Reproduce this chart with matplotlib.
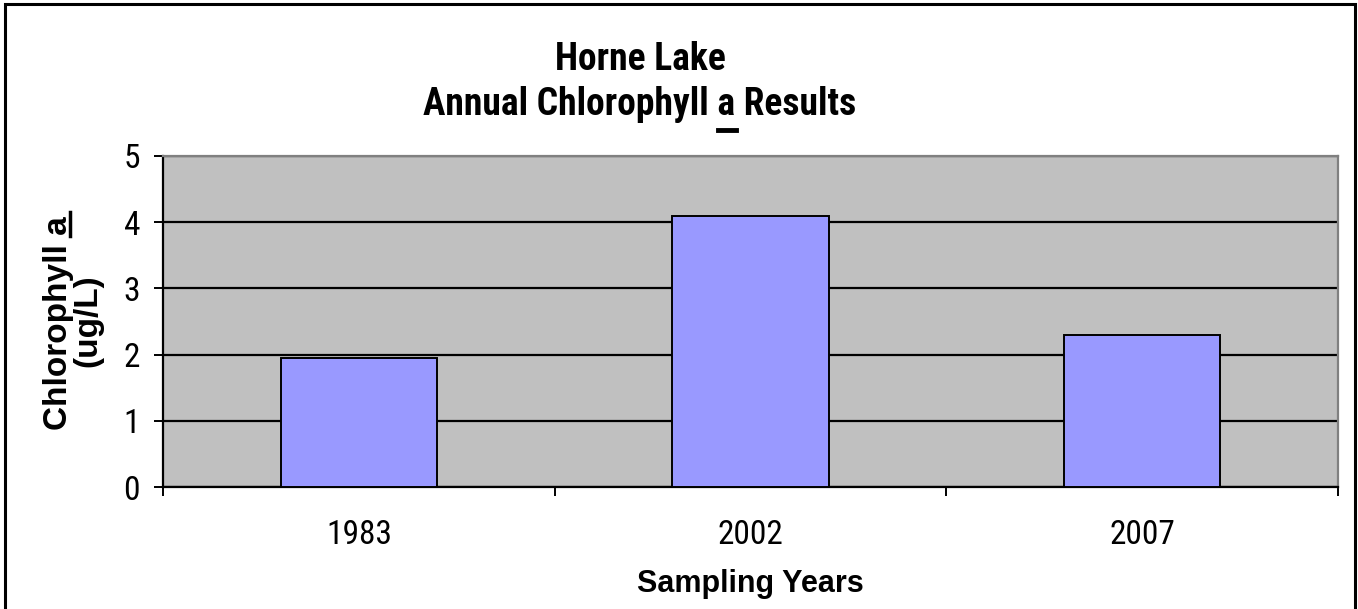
import matplotlib
matplotlib.use("Agg")
import matplotlib.pyplot as plt
from matplotlib.font_manager import FontProperties
from matplotlib.lines import Line2D
from matplotlib.patches import Rectangle

# chart data
years = ["1983", "2002", "2007"]
chl_a = [1.95, 4.1, 2.3]
y_ticks = [0, 1, 2, 3, 4, 5]

NARROW = ["Roboto Condensed", "Liberation Sans", "DejaVu Sans"]
WIDE = ["Liberation Sans", "DejaVu Sans"]

W, H = 1358, 609
fig = plt.figure(figsize=(W / 100, H / 100), dpi=100)
fig.patch.set_facecolor("white")

# plot area in pixel terms of the original chart
ax = fig.add_axes([163 / W, 1 - 487 / H, (1338 - 163) / W, (487 - 156) / H])
ax.set_facecolor("#C0C0C0")

xpos = [i + 0.5 for i in range(len(years))]
ax.bar(xpos, chl_a, width=0.4, color="#9999FF", edgecolor="black",
       linewidth=1.4, zorder=3)

ax.set_xlim(0, len(years))
ax.set_ylim(0, 5)
ax.set_yticks(y_ticks)
ax.set_yticklabels([str(t) for t in y_ticks], family=NARROW, fontsize=24)
ax.yaxis.grid(True, color="black", linewidth=1.6, zorder=1)
ax.set_axisbelow(True)

# category boundaries carry the tick marks, labels sit in between
ax.set_xticks(range(len(years) + 1))
ax.set_xticklabels([""] * (len(years) + 1))
ax.set_xticks(xpos, minor=True)
ax.set_xticklabels(years, minor=True, family=NARROW, fontsize=24)
ax.tick_params(axis="x", which="minor", length=0, pad=23)
ax.tick_params(axis="x", which="major", direction="out", length=6.5, width=1.4)
ax.tick_params(axis="y", direction="out", length=6.5, width=1.4, pad=10)

for side in ["left", "bottom"]:
    ax.spines[side].set_color("black")
    ax.spines[side].set_linewidth(1.6)
for side in ["top", "right"]:
    ax.spines[side].set_color("#808080")
    ax.spines[side].set_linewidth(1.6)

# titles and labels
title_fp = FontProperties(family=NARROW, weight="bold", size=27)
ylab_fp = FontProperties(family=WIDE, weight="bold", size=24)
xlab_fp = FontProperties(family=WIDE, weight="bold", size=22)

tx = 640 / W
fig.text(tx, 1 - 70 / H, "Horne Lake", ha="center", va="baseline",
         fontproperties=title_fp)
title2 = "Annual Chlorophyll a Results"
fig.text(tx, 1 - 115 / H, title2, ha="center", va="baseline",
         fontproperties=title_fp)

ylab1 = "Chlorophyll a"
fig.text(67 / W, 1 - 323 / H, ylab1, rotation=90, rotation_mode="anchor",
         ha="center", va="baseline", fontproperties=ylab_fp)
fig.text(96 / W, 1 - 321 / H, "(ug/L)", rotation=90, rotation_mode="anchor",
         ha="center", va="baseline", fontproperties=ylab_fp)

fig.text(750 / W, 1 - 592 / H, "Sampling Years", ha="center", va="baseline",
         fontproperties=xlab_fp)

# underline the "a" in title and y label
fig.canvas.draw()
renderer = fig.canvas.get_renderer()


def text_width(s, fp):
    w, h, d = renderer.get_text_width_height_descent(s, fp, ismath=False)
    return w


def a_span(full, fp):
    total = text_width(full, fp)
    upto = text_width(full[:full.index(" a") + 2], fp)
    wa = text_width("a", fp)
    start = -total / 2 + upto - wa
    return start, start + wa


# title: horizontal underline below baseline
s0, s1 = a_span(title2, title_fp)
cx = 640
uy = H - 130
fig.add_artist(Line2D([(cx + s0) / W, (cx + s1) / W], [uy / H, uy / H],
                      transform=fig.transFigure, color="black", linewidth=3.5))

# y label: rotated, so underline is a vertical line right of baseline
s0, s1 = a_span(ylab1, ylab_fp)
cy = H - 323
ux = 70
fig.add_artist(Line2D([ux / W, ux / W], [(cy + s0 - 1) / H, (cy + s1 + 4) / H],
                      transform=fig.transFigure, color="black", linewidth=2.5))

# chart frame
fig.add_artist(Rectangle((5 / W, -0.05), (1355 - 5) / W, 1 - 4 / H + 0.05,
                         transform=fig.transFigure, fill=False,
                         edgecolor="black", linewidth=2.2))

fig.savefig("out.png", dpi=100)
